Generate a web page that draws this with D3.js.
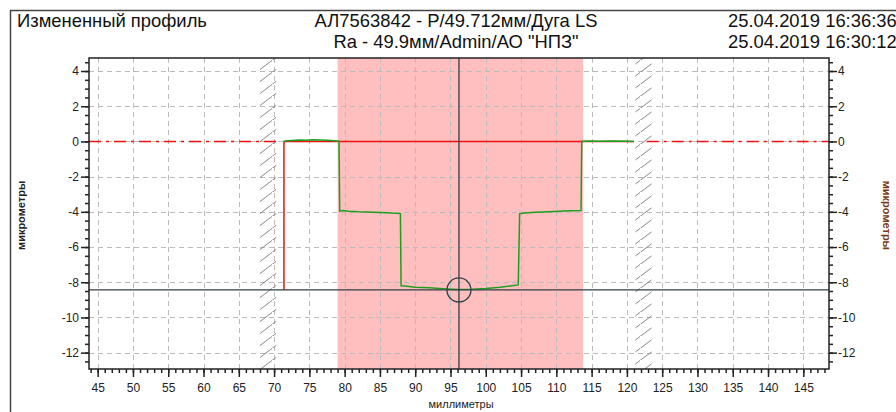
<!DOCTYPE html>
<html>
<head>
<meta charset="utf-8">
<script src="https://cdn.jsdelivr.net/npm/d3@7"></script>
<style>
    body { margin: 0; background: #fff; }
    text { font-family: "Liberation Sans", Arial, sans-serif; }
</style>
</head>
<body>
<div id="chart"></div>
<script>
// Header texts
const titleLeft = "Измененный профиль";
const titleCenter = ["АЛ7563842 - Р/49.712мм/Дуга LS", "Ra - 49.9мм/Admin/АО \"НПЗ\""];
const titleRight = ["25.04.2019 16:36:36", "25.04.2019 16:30:12"];

// Axes
const xDomain = [43.77, 148.64];
const yDomain = [-12.93, 4.74];
const xTicks = d3.range(45, 146, 5);
const yTicks = [-12, -10, -8, -6, -4, -2, 0, 2, 4];

// Measured profile (mm, um)
const profileX = [71.4, 71.6, 72.5, 73.5, 74.5, 75.5, 76.5, 77.5, 78.5, 79.2, 79.3, 79.8, 80.5, 82, 84, 86, 87.9,
    88.0, 88.5, 90, 92, 94, 96, 98, 100, 102, 104.6, 104.8, 105.5, 107, 109, 111, 113.5,
    113.6, 114.5, 116, 118, 120, 121];
const profileY = [0, 0.02, 0.05, 0.08, 0.06, 0.1, 0.08, 0.06, 0.04, 0.02, -3.96, -3.93, -3.97, -4.0, -4.02, -4.05, -4.1,
    -8.2, -8.22, -8.28, -8.32, -8.37, -8.42, -8.4, -8.35, -8.28, -8.15, -4.1, -4.06, -4.03, -3.99, -3.96, -3.93,
    0, 0.02, 0.01, 0.03, 0.01, 0];

// Nominal line and marks
const nominalStartX = 71.4;
const nominalEndX = 121;
const nominalY = 0;
const dashLeft = [43.77, 70.3];
const dashRight = [122.8, 148.64];
const pinkRange = [79.0, 113.8];
const hatchBands = [[68.0, 70.3], [121.2, 123.5]];
const cursorX = 96.2;
const cursorY = -8.44;

const width = 896, height = 412;
const margin = { top: 58, right: 67, bottom: 43, left: 89 };

const svg = d3.select("#chart").append("svg")
    .attr("width", width)
    .attr("height", height);

const defs = svg.append("defs");
const hatch = defs.append("pattern")
    .attr("id", "hatch")
    .attr("patternUnits", "userSpaceOnUse")
    .attr("width", 16)
    .attr("height", 12);
hatch.append("path")
    .attr("d", "M-2,14 L18,-1")
    .attr("stroke", "#888")
    .attr("stroke-width", 1);

defs.append("clipPath").attr("id", "plotClip")
    .append("rect")
    .attr("x", margin.left)
    .attr("y", margin.top)
    .attr("width", width - margin.left - margin.right)
    .attr("height", height - margin.top - margin.bottom);

// Outer frame
svg.append("path")
    .attr("d", `M10.5,${height} V10.5 H${width}`)
    .attr("fill", "none")
    .attr("stroke", "#444")
    .attr("stroke-width", 1.5);

// Header
svg.append("text")
    .attr("x", 17).attr("y", 27)
    .attr("font-size", 18.4)
    .attr("fill", "#111")
    .text(titleLeft);

svg.selectAll(".titleCenter")
    .data(titleCenter)
    .enter().append("text")
    .attr("class", "titleCenter")
    .attr("x", 456)
    .attr("y", (d, i) => 27 + i * 21)
    .attr("text-anchor", "middle")
    .attr("font-size", 18.4)
    .attr("fill", "#111")
    .text(d => d);

svg.selectAll(".titleRight")
    .data(titleRight)
    .enter().append("text")
    .attr("class", "titleRight")
    .attr("x", 728)
    .attr("y", (d, i) => 27 + i * 21)
    .attr("font-size", 18.4)
    .attr("fill", "#111")
    .text(d => d);

// Scales
const x = d3.scaleLinear().domain(xDomain).range([margin.left, width - margin.right]);
const y = d3.scaleLinear().domain(yDomain).range([height - margin.bottom, margin.top]);

const plot = svg.append("g").attr("clip-path", "url(#plotClip)");

// Pink zone
plot.append("rect")
    .attr("x", x(pinkRange[0]))
    .attr("y", margin.top)
    .attr("width", x(pinkRange[1]) - x(pinkRange[0]))
    .attr("height", height - margin.top - margin.bottom)
    .attr("fill", "#ffbfbf");

// Grid
plot.selectAll(".vgrid")
    .data(xTicks)
    .enter().append("line")
    .attr("class", "vgrid")
    .attr("x1", d => Math.round(x(d)) + 0.5)
    .attr("x2", d => Math.round(x(d)) + 0.5)
    .attr("y1", margin.top)
    .attr("y2", height - margin.bottom)
    .attr("stroke", "#bbb")
    .attr("stroke-dasharray", "5,4");

plot.selectAll(".hgrid")
    .data(yTicks)
    .enter().append("line")
    .attr("class", "hgrid")
    .attr("x1", margin.left)
    .attr("x2", width - margin.right)
    .attr("y1", d => Math.round(y(d)) + 0.5)
    .attr("y2", d => Math.round(y(d)) + 0.5)
    .attr("stroke", "#bbb")
    .attr("stroke-dasharray", "5,4");

// Hatched bands
plot.selectAll(".hatchBand")
    .data(hatchBands)
    .enter().append("rect")
    .attr("class", "hatchBand")
    .attr("x", d => x(d[0]))
    .attr("y", margin.top)
    .attr("width", d => x(d[1]) - x(d[0]))
    .attr("height", height - margin.top - margin.bottom)
    .attr("fill", "url(#hatch)");

// Red nominal: dash-dot parts outside, solid inside
[dashLeft, dashRight].forEach(seg => {
    plot.append("line")
        .attr("x1", x(seg[0])).attr("x2", x(seg[1]))
        .attr("y1", y(nominalY)).attr("y2", y(nominalY))
        .attr("stroke", "#f01010")
        .attr("stroke-width", 1.5)
        .attr("stroke-dasharray", "12,5,3,5");
});

plot.append("path")
    .attr("d", `M${x(nominalStartX)},${y(cursorY)} V${y(nominalY)} H${x(nominalEndX)}`)
    .attr("fill", "none")
    .attr("stroke", "#f01010")
    .attr("stroke-width", 1.5);

// Green profile
const line = d3.line()
    .x((d, i) => x(profileX[i]))
    .y(d => y(d));

plot.append("path")
    .datum(profileY)
    .attr("d", line)
    .attr("fill", "none")
    .attr("stroke", "#1e9e1e")
    .attr("stroke-width", 1.5);

// Cursor
plot.append("line")
    .attr("x1", x(cursorX)).attr("x2", x(cursorX))
    .attr("y1", margin.top).attr("y2", height - margin.bottom)
    .attr("stroke", "#2f3f47")
    .attr("stroke-width", 1.3);
plot.append("line")
    .attr("x1", margin.left).attr("x2", width - margin.right)
    .attr("y1", y(cursorY)).attr("y2", y(cursorY))
    .attr("stroke", "#2f3f47")
    .attr("stroke-width", 1.3);
plot.append("circle")
    .attr("cx", x(cursorX))
    .attr("cy", y(cursorY))
    .attr("r", 12)
    .attr("fill", "none")
    .attr("stroke", "#2f3f47")
    .attr("stroke-width", 1.3);

// Frame of plot
svg.append("rect")
    .attr("x", margin.left)
    .attr("y", margin.top)
    .attr("width", width - margin.left - margin.right)
    .attr("height", height - margin.top - margin.bottom)
    .attr("fill", "none")
    .attr("stroke", "#222")
    .attr("stroke-width", 1.5);

// Axes
const tickFmt = d => d3.format("d")(d).replace("−", "-");

const xAxis = d3.axisBottom(x).tickValues(xTicks).tickSize(8).tickFormat(tickFmt);
const xMinor = d3.axisBottom(x).tickValues(d3.range(44, 149, 1)).tickSize(4).tickFormat("");
const yMajorValues = yTicks;
const yMinorValues = d3.range(-12.5, 4.6, 0.5);

function styleAxis(g) {
    g.select(".domain").remove();
    g.selectAll(".tick line").attr("stroke", "#222").attr("stroke-width", 1.5);
    g.selectAll(".tick text").attr("font-size", 12).attr("fill", "#222")
        .attr("font-family", "'Liberation Sans', Arial, sans-serif");
}

svg.append("g")
    .attr("transform", `translate(0,${height - margin.bottom})`)
    .call(xMinor).call(styleAxis);
svg.append("g")
    .attr("transform", `translate(0,${height - margin.bottom})`)
    .call(xAxis).call(styleAxis)
    .selectAll(".tick text").attr("dy", "1em");

svg.append("g")
    .attr("transform", `translate(${margin.left},0)`)
    .call(d3.axisLeft(y).tickValues(yMinorValues).tickSize(4).tickFormat(""))
    .call(styleAxis);
svg.append("g")
    .attr("transform", `translate(${margin.left},0)`)
    .call(d3.axisLeft(y).tickValues(yMajorValues).tickSize(8).tickFormat(tickFmt))
    .call(styleAxis)
    .selectAll(".tick text").attr("x", -10);

svg.append("g")
    .attr("transform", `translate(${width - margin.right},0)`)
    .call(d3.axisRight(y).tickValues(yMinorValues).tickSize(4).tickFormat(""))
    .call(styleAxis);
svg.append("g")
    .attr("transform", `translate(${width - margin.right},0)`)
    .call(d3.axisRight(y).tickValues(yMajorValues).tickSize(8).tickFormat(tickFmt))
    .call(styleAxis)
    .selectAll(".tick text").attr("x", 9);

// Axis titles
svg.append("text")
    .attr("x", x(96.5))
    .attr("y", 408)
    .attr("text-anchor", "middle")
    .attr("font-size", 11)
    .attr("fill", "#222")
    .text("миллиметры");

svg.append("text")
    .attr("transform", `translate(25,${y(-4.2)}) rotate(-90)`)
    .attr("text-anchor", "middle")
    .attr("font-size", 11)
    .attr("font-weight", "bold")
    .attr("fill", "#222")
    .text("микрометры");

svg.append("text")
    .attr("transform", `translate(883,${y(-4.2)}) rotate(90)`)
    .attr("text-anchor", "middle")
    .attr("font-size", 11)
    .attr("font-weight", "bold")
    .attr("fill", "#7a3a10")
    .text("микрометры");
</script>
</body>
</html>
